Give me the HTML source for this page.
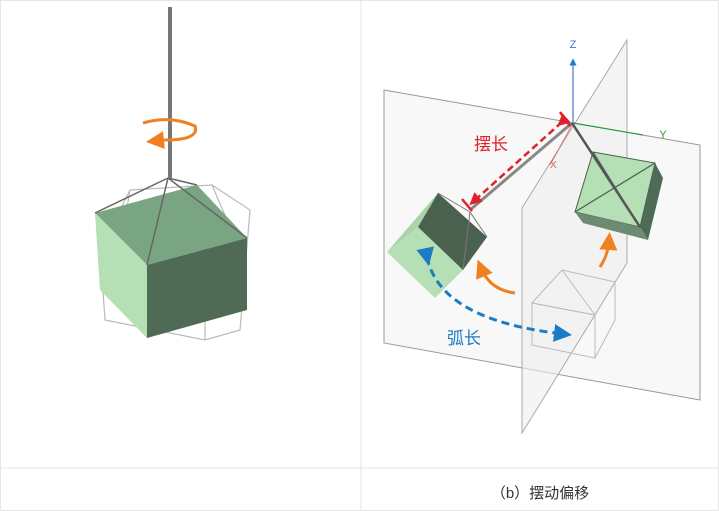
<!DOCTYPE html><html><head><meta charset="utf-8"><style>body{margin:0;background:#fff}svg{display:block}</style></head><body>
<svg width="719" height="511" viewBox="0 0 719 511" xmlns="http://www.w3.org/2000/svg" font-family="Liberation Sans, Noto Sans CJK SC, sans-serif">
<defs>
<marker id="ao" markerWidth="6" markerHeight="6" refX="3" refY="3" orient="auto"><path d="M0,0L6,3L0,6z" fill="#f08020"/></marker>
<marker id="ab" markerWidth="6" markerHeight="6" refX="3" refY="3" orient="auto"><path d="M0,0L6,3L0,6z" fill="#1a7cc4"/></marker>
<marker id="ar" markerWidth="5" markerHeight="5" refX="2.5" refY="2.5" orient="auto"><path d="M0,0L5,2.5L0,5z" fill="#e0202a"/></marker>
</defs>
<rect x="0.5" y="0.5" width="718" height="510" fill="none" stroke="#e6e6e6"/>
<line x1="361" y1="0" x2="361" y2="511" stroke="#e6e6e6"/>
<line x1="0" y1="468" x2="719" y2="468" stroke="#e6e6e6"/>
<text x="540" y="498" font-size="15" text-anchor="middle" fill="#333">（b）摆动偏移</text>
<!-- left panel -->
<g stroke="#bbb" fill="none" stroke-width="1.2">
<polygon points="130,190 212,185 250,210 240,330 205,340 105,320 100,250"/>
<line x1="120" y1="248" x2="240" y2="250"/><line x1="205" y1="340" x2="205" y2="250"/>
<line x1="130" y1="190" x2="120" y2="248"/><line x1="212" y1="185" x2="240" y2="250"/>
</g>
<polygon points="95,213 197,185 247,238 147,265" fill="#7aa582"/>
<polygon points="95,213 147,265 147,338 100,290" fill="#b5dfb5"/>
<polygon points="147,265 247,238 247,310 147,338" fill="#4f6b55"/>
<g stroke="#666" stroke-width="1.5"><line x1="168" y1="178" x2="95" y2="213"/><line x1="168" y1="178" x2="197" y2="185"/><line x1="168" y1="178" x2="247" y2="238"/><line x1="168" y1="178" x2="147" y2="265"/></g>
<line x1="170" y1="7" x2="170" y2="178" stroke="#777" stroke-width="4"/>
<path d="M143,123 Q170,115 195,126 Q200,140 165,140 L155,141" fill="none" stroke="#f08020" stroke-width="3" marker-end="url(#ao)"/>
<!-- right panel planes -->
<polygon points="384,90 700,145 700,400 384,343" fill="#f4f4f4" fill-opacity="0.6" stroke="#999"/>
<polygon points="627,40 627,263 522,433 522,208" fill="#eee" fill-opacity="0.6" stroke="#aaa"/>
<line x1="573" y1="123" x2="573" y2="62" stroke="#4a6fd8" stroke-width="1.2" marker-end="url(#ab)"/>
<text x="573" y="48" font-size="11" fill="#4a6fd8" text-anchor="middle">Z</text>
<line x1="573" y1="123" x2="643" y2="135" stroke="#2a9a3a" stroke-width="1.2"/>
<text x="663" y="138" font-size="11" fill="#2a9a3a" text-anchor="middle">Y</text>
<line x1="573" y1="123" x2="550" y2="165" stroke="#e06060" stroke-width="0.8"/>
<text x="550" y="168" font-size="10" fill="#e06060">X</text>
<!-- ghost cube -->
<g fill="none" stroke="#bbb"><polygon points="532,303 562,270 615,282 595,315"/><polygon points="532,303 595,315 595,358 532,345"/><polygon points="595,315 615,282 615,320 595,358"/><line x1="562" y1="270" x2="595" y2="315"/></g>
<!-- left cube -->
<polygon points="387,252 438,193 418,227" fill="#a8d4a8"/>
<polygon points="387,252 418,227 463,270 435,298" fill="#b5dfb5"/>
<polygon points="418,227 438,193 487,237 463,270" fill="#4a6150"/>
<g stroke="#777" stroke-width="1" fill="none"><line x1="470" y1="212" x2="438" y2="193"/><line x1="470" y1="212" x2="487" y2="237"/><line x1="470" y1="212" x2="463" y2="270"/></g>
<line x1="572" y1="123" x2="470" y2="210" stroke="#888" stroke-width="3"/>
<!-- right cube -->
<polygon points="593,152 655,163 640,227 575,212" fill="#b5dfb5" stroke="#4a6150"/>
<polygon points="655,163 663,178 648,240 640,227" fill="#4f6b55"/>
<polygon points="575,212 640,227 648,240 583,223" fill="#6d8a72"/>
<g stroke="#4a6150" stroke-width="1.2"><line x1="593" y1="152" x2="640" y2="227"/><line x1="655" y1="163" x2="575" y2="212"/></g>
<line x1="572" y1="123" x2="640" y2="227" stroke="#555" stroke-width="2.5"/>
<!-- red -->
<line x1="562" y1="122" x2="474" y2="201" stroke="#e0202a" stroke-width="2.5" stroke-dasharray="7,4" marker-end="url(#ar)" marker-start="url(#ar)"/>
<line x1="560" y1="112" x2="570" y2="126" stroke="#e0202a" stroke-width="2.5"/>
<line x1="462" y1="199" x2="472" y2="211" stroke="#e0202a" stroke-width="2.5"/>
<text x="474" y="150" font-size="17" fill="#e0202a">摆长</text>
<!-- orange -->
<path d="M515,293 Q490,290 481,268" fill="none" stroke="#f08020" stroke-width="3" marker-end="url(#ao)"/>
<path d="M600,267 Q608,255 609,241" fill="none" stroke="#f08020" stroke-width="3" marker-end="url(#ao)"/>
<!-- blue -->
<path d="M427,257 Q440,320 563,334" fill="none" stroke="#1a7cc4" stroke-width="3" stroke-dasharray="8,5" marker-end="url(#ab)" marker-start="url(#ab)"/>
<text x="447" y="344" font-size="17" fill="#1a7cc4">弧长</text>
</svg>
</body></html>
